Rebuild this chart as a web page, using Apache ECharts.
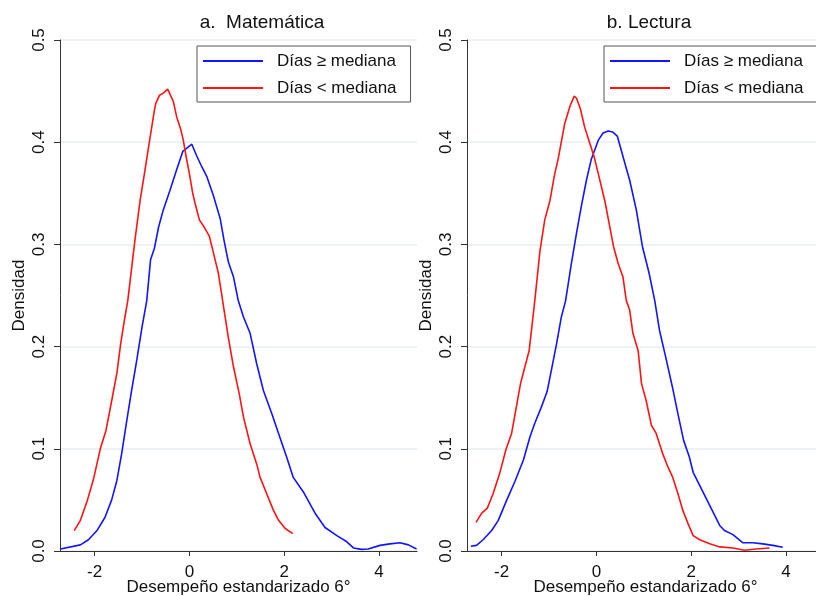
<!DOCTYPE html>
<html>
<head>
<meta charset="utf-8">
<title>Densidad desempeño 6°</title>
<script src="https://cdn.jsdelivr.net/npm/echarts@6/dist/echarts.min.js"></script>
<style>
  html, body { margin: 0; padding: 0; background: #fff; }
  #chart { width: 816px; height: 596px; }
</style>
</head>
<body>
<div id="chart"></div>
<script>
// nombres de las series y ticks
var serieAlta = 'Días ≥ mediana';
var serieBaja = 'Días < mediana';
var ticksX = [-2, 0, 2, 4];

// a. Matemática
var matAltaX = [-2.72,-2.30,-2.13,-1.95,-1.78,-1.64,-1.53,-1.43,-1.32,-1.22,-1.11,-1.00,-0.90,-0.82,-0.74,-0.65,-0.55,-0.41,-0.27,-0.14,-0.06,0.05,0.15,0.26,0.37,0.51,0.65,0.73,0.82,0.93,1.03,1.14,1.28,1.42,1.56,1.74,1.88,2.05,2.19,2.40,2.65,2.86,3.11,3.32,3.46,3.63,3.77,4.02,4.23,4.44,4.62,4.79];
var matAltaY = [0.002,0.006,0.011,0.020,0.033,0.050,0.069,0.095,0.128,0.157,0.187,0.219,0.245,0.285,0.296,0.317,0.334,0.353,0.373,0.391,0.394,0.398,0.387,0.376,0.366,0.347,0.325,0.304,0.283,0.268,0.245,0.229,0.213,0.183,0.157,0.134,0.115,0.092,0.072,0.058,0.037,0.023,0.015,0.009,0.003,0.0016,0.002,0.0055,0.007,0.008,0.006,0.002];
var matBajaX = [-2.43,-2.30,-2.15,-2.02,-1.88,-1.76,-1.64,-1.53,-1.45,-1.36,-1.30,-1.15,-1.04,-0.95,-0.86,-0.74,-0.71,-0.63,-0.55,-0.46,-0.34,-0.27,-0.18,-0.13,-0.07,0,0.07,0.12,0.21,0.31,0.42,0.51,0.61,0.70,0.82,0.93,1.05,1.14,1.28,1.42,1.49,1.63,1.77,1.88,2.02,2.18];
var matBajaY = [0.020,0.030,0.050,0.071,0.100,0.118,0.147,0.174,0.203,0.229,0.245,0.304,0.343,0.369,0.396,0.431,0.438,0.446,0.448,0.452,0.440,0.425,0.412,0.402,0.386,0.369,0.350,0.340,0.324,0.317,0.308,0.291,0.272,0.245,0.209,0.180,0.154,0.131,0.105,0.085,0.072,0.056,0.040,0.030,0.022,0.017];

// b. Lectura
var lecAltaX = [-2.65,-2.53,-2.39,-2.21,-2.07,-1.89,-1.72,-1.54,-1.40,-1.30,-1.16,-1.04,-0.95,-0.84,-0.74,-0.65,-0.53,-0.42,-0.32,-0.21,-0.11,0.04,0.14,0.25,0.34,0.44,0.56,0.70,0.84,0.97,1.11,1.23,1.33,1.46,1.60,1.72,1.84,1.96,2.04,2.18,2.32,2.46,2.60,2.70,2.88,3.09,3.30,3.51,3.72,3.93];
var lecAltaY = [0.0046,0.0055,0.011,0.020,0.030,0.050,0.068,0.089,0.112,0.125,0.141,0.156,0.177,0.203,0.229,0.245,0.281,0.311,0.337,0.363,0.383,0.402,0.409,0.411,0.410,0.406,0.386,0.363,0.334,0.298,0.272,0.245,0.216,0.190,0.161,0.134,0.108,0.092,0.077,0.064,0.051,0.038,0.025,0.020,0.016,0.008,0.008,0.007,0.0055,0.0036];
var lecBajaX = [-2.54,-2.42,-2.30,-2.18,-2.04,-1.91,-1.79,-1.70,-1.60,-1.51,-1.42,-1.37,-1.30,-1.19,-1.09,-0.98,-0.88,-0.81,-0.67,-0.56,-0.47,-0.42,-0.34,-0.25,-0.14,-0.05,0.04,0.18,0.27,0.36,0.46,0.56,0.63,0.70,0.77,0.88,0.95,1.05,1.16,1.26,1.40,1.51,1.61,1.72,1.82,1.93,2.04,2.18,2.39,2.60,2.88,3.12,3.37,3.65];
var lecBajaY = [0.028,0.037,0.042,0.056,0.076,0.099,0.115,0.138,0.164,0.180,0.196,0.216,0.245,0.294,0.324,0.343,0.369,0.383,0.418,0.435,0.445,0.443,0.433,0.415,0.399,0.386,0.369,0.342,0.320,0.298,0.281,0.268,0.245,0.236,0.213,0.196,0.164,0.147,0.123,0.115,0.095,0.082,0.072,0.056,0.040,0.027,0.015,0.011,0.007,0.004,0.003,0.0007,0.002,0.003];

function pares(xs, ys) {
    return xs.map(function (x, i) { return [x, ys[i]]; });
}

var fuente = '"Liberation Sans", Arial, sans-serif';
var azul = '#1414ff';
var rojo = '#ff1414';

function ejeX(idx) {
    return {
        type: 'value', gridIndex: idx, min: -2.73, max: 4.8,
        name: 'Desempeño estandarizado 6°', nameLocation: 'middle', nameGap: 28,
        nameMoveOverlap: false,
        nameTextStyle: { fontFamily: fuente, fontSize: 17, color: '#111' },
        axisLine: { onZero: false, lineStyle: { color: '#333', width: 1 } },
        axisTick: { show: true, length: 5, customValues: ticksX, lineStyle: { color: '#333' } },
        axisLabel: { customValues: ticksX, margin: 13, fontFamily: fuente, fontSize: 17, color: '#111' },
        splitLine: { show: false }
    };
}

function ejeY(idx) {
    return {
        type: 'value', gridIndex: idx, min: 0, max: 0.5, interval: 0.1,
        name: 'Densidad', nameLocation: 'middle', nameGap: 32, nameRotate: 90,
        nameMoveOverlap: false,
        nameTextStyle: { fontFamily: fuente, fontSize: 17, color: '#111' },
        axisLine: { show: true, onZero: false, lineStyle: { color: '#333', width: 1 } },
        axisTick: { show: true, length: 6, lineStyle: { color: '#333' } },
        axisLabel: {
            rotate: 90, margin: 12, fontFamily: fuente, fontSize: 17, color: '#111',
            formatter: function (v) { return v.toFixed(1); }
        },
        splitLine: { show: true, lineStyle: { color: '#e6eef2', width: 1.5 } }
    };
}

function leyenda(left) {
    return {
        orient: 'vertical', left: left, top: 46,
        data: [serieAlta, serieBaja],
        icon: 'rect', itemWidth: 60, itemHeight: 2, itemGap: 9,
        padding: [6, 14, 5, 6],
        borderColor: '#555', borderWidth: 1, backgroundColor: '#fff',
        textStyle: { fontFamily: fuente, fontSize: 17, color: '#111', lineHeight: 18, padding: [0, 0, 0, 9] }
    };
}

function linea(nombre, color, idx, datos) {
    return {
        name: nombre, type: 'line', xAxisIndex: idx, yAxisIndex: idx,
        data: datos, symbol: 'none', smooth: false, animation: false,
        lineStyle: { color: color, width: 1.6 }, itemStyle: { color: color }
    };
}

var chart = echarts.init(document.getElementById('chart'), null, { renderer: 'canvas' });
chart.setOption({
    backgroundColor: '#fff',
    animation: false,
    graphic: [
        { type: 'text', x: 262, y: 23, style: { text: 'a.  Matemática', font: '19px ' + fuente, fill: '#111', textAlign: 'center', textVerticalAlign: 'middle' } },
        { type: 'text', x: 649, y: 23, style: { text: 'b. Lectura', font: '19px ' + fuente, fill: '#111', textAlign: 'center', textVerticalAlign: 'middle' } }
    ],
    legend: [leyenda(197), leyenda(604)],
    grid: [
        { left: 60, top: 40, width: 357, height: 511, outerBoundsMode: 'none' },
        { left: 467, top: 40, width: 357, height: 511, outerBoundsMode: 'none' }
    ],
    xAxis: [ejeX(0), ejeX(1)],
    yAxis: [ejeY(0), ejeY(1)],
    series: [
        linea(serieAlta, azul, 0, pares(matAltaX, matAltaY)),
        linea(serieBaja, rojo, 0, pares(matBajaX, matBajaY)),
        linea(serieAlta, azul, 1, pares(lecAltaX, lecAltaY)),
        linea(serieBaja, rojo, 1, pares(lecBajaX, lecBajaY))
    ]
});
</script>
</body>
</html>
